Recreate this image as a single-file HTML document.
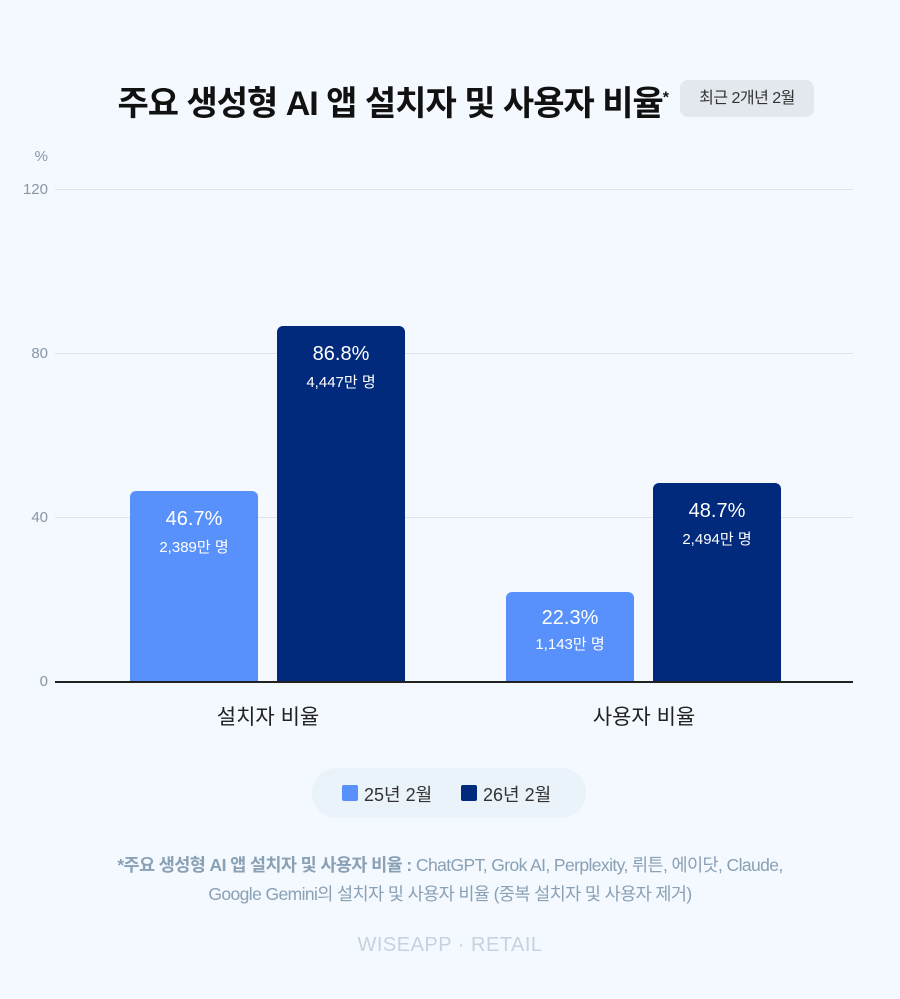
<!DOCTYPE html>
<html><head><meta charset="utf-8"><style>
body{margin:0;width:900px;height:999px;background:#f3f9fe;font-family:"Liberation Sans","Noto Sans CJK KR",sans-serif;position:relative;overflow:hidden}
.a{position:absolute}
.t{left:0;top:76px;width:668px;text-align:right;font-size:34px;font-weight:bold;color:#111;letter-spacing:-1px}
.badge{left:680px;top:80px;width:134px;height:37px;background:#e2e8ee;border-radius:8px;font-size:16px;color:#333;text-align:center;line-height:37px;letter-spacing:-0.5px}
.yl{width:40px;text-align:right;left:8px;font-size:15px;color:#8a96a3}
.g{left:55px;width:798px;height:1px;background:#dde3e9}
.bar{border-radius:6px 6px 0 0;color:#fff;text-align:center}
.bar b{display:block;font-size:20px;font-weight:normal;margin-top:17px}
.bar span{display:block;font-size:15px;margin-top:5px}
.c{font-size:21px;color:#222;text-align:center;width:300px}
</style></head><body>
<div class="a t">주요 생성형 AI 앱 설치자 및 사용자 비율<sup style="font-size:16px">*</sup></div>
<div class="a badge">최근 2개년 2월</div>
<div class="a yl" style="top:148px">%</div>
<div class="a yl" style="top:181px">120</div>
<div class="a yl" style="top:345px">80</div>
<div class="a yl" style="top:509px">40</div>
<div class="a yl" style="top:673px">0</div>
<div class="a g" style="top:189px"></div>
<div class="a g" style="top:353px"></div>
<div class="a g" style="top:517px"></div>
<div class="a g" style="top:681px;height:2px;background:#222"></div>
<div class="a bar" style="left:130px;width:128px;top:491px;height:190px;background:#5891fb"><b>46.7%</b><span>2,389만 명</span></div>
<div class="a bar" style="left:277px;width:128px;top:326px;height:355px;background:#022a7c"><b>86.8%</b><span>4,447만 명</span></div>
<div class="a bar" style="left:506px;width:128px;top:592px;height:89px;background:#5891fb"><b style="margin-top:15px">22.3%</b><span style="margin-top:3px">1,143만 명</span></div>
<div class="a bar" style="left:653px;width:128px;top:483px;height:198px;background:#022a7c"><b>48.7%</b><span>2,494만 명</span></div>
<div class="a c" style="left:118px;top:701px">설치자 비율</div>
<div class="a c" style="left:494px;top:701px">사용자 비율</div>
<div class="a" style="left:312px;top:768px;width:274px;height:50px;border-radius:25px;background:#eaf2fa"></div>
<div class="a" style="left:342px;top:785px;width:16px;height:16px;border-radius:2px;background:#5891fb"></div>
<div class="a" style="left:364px;top:781px;font-size:18px;color:#333">25년 2월</div>
<div class="a" style="left:461px;top:785px;width:16px;height:16px;border-radius:2px;background:#022a7c"></div>
<div class="a" style="left:483px;top:781px;font-size:18px;color:#333">26년 2월</div>
<div class="a" style="left:0;width:900px;top:851px;text-align:center;font-size:17.5px;color:#8aa0b5;line-height:29px;letter-spacing:-0.6px"><b>*주요 생성형 AI 앱 설치자 및 사용자 비율 :</b> ChatGPT, Grok AI, Perplexity, 뤼튼, 에이닷, Claude,<br>Google Gemini의 설치자 및 사용자 비율 (중복 설치자 및 사용자 제거)</div>
<div class="a" style="left:0;width:900px;top:934px;text-align:center;font-size:20px;color:#c6d2dd;letter-spacing:0.5px">WISEAPP · RETAIL</div>
</body></html>
